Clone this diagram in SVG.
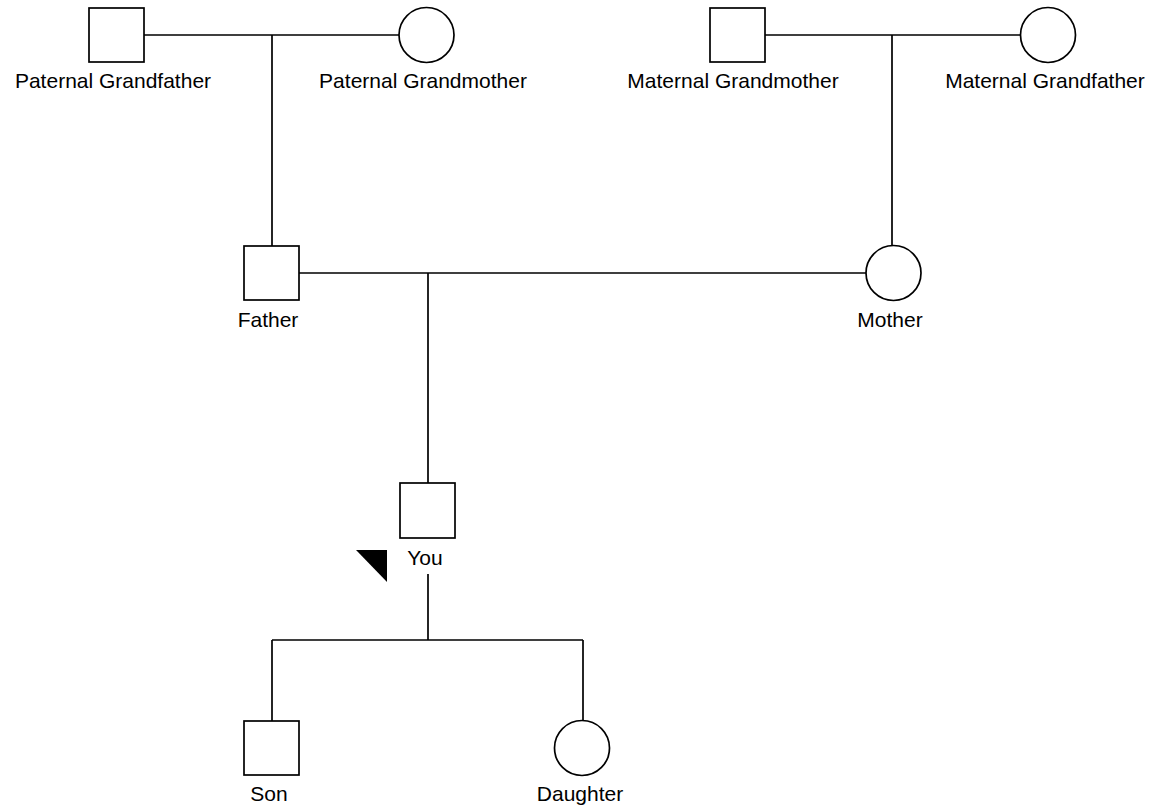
<svg xmlns="http://www.w3.org/2000/svg" width="1155" height="807" viewBox="0 0 1155 807">
<style>
.m{fill:#fff;stroke:#000;stroke-width:1.7}
.c{stroke:#000;stroke-width:1.7;fill:none}
text{font-family:"Liberation Sans",Arial,sans-serif;font-size:21px;fill:#000;text-anchor:middle}
</style>
<rect width="1155" height="807" fill="#fff"/>
<g id="connectors">
<path class="c" d="M144 35H399M272 35V246"/>
<path class="c" d="M765 35H1021M892 35V245"/>
<path class="c" d="M299 273H866M428 273V483"/>
<path class="c" d="M428 574V640M272 640H583M272 640V721M583 640V721"/>
</g>
<g id="paternal-grandfather"><rect class="m" x="89" y="8" width="55" height="54"/><text x="113" y="88">Paternal Grandfather</text></g>
<g id="paternal-grandmother"><circle class="m" cx="426.5" cy="35" r="27.5"/><text x="423" y="88">Paternal Grandmother</text></g>
<g id="maternal-grandmother"><rect class="m" x="710" y="8" width="55" height="54"/><text x="733" y="88">Maternal Grandmother</text></g>
<g id="maternal-grandfather"><circle class="m" cx="1048" cy="35" r="27.5"/><text x="1045" y="88">Maternal Grandfather</text></g>
<g id="father"><rect class="m" x="244" y="246" width="55" height="54"/><text x="268" y="327">Father</text></g>
<g id="mother"><circle class="m" cx="893.5" cy="273" r="27.5"/><text x="890" y="327">Mother</text></g>
<g id="you"><rect class="m" x="400" y="483" width="55" height="55"/><text x="425" y="565">You</text><polygon points="356,550 387,550 387,582" fill="#000"/></g>
<g id="son"><rect class="m" x="244" y="721" width="55" height="54"/><text x="269" y="801">Son</text></g>
<g id="daughter"><circle class="m" cx="582" cy="748" r="27.5"/><text x="580" y="801">Daughter</text></g>
</svg>
